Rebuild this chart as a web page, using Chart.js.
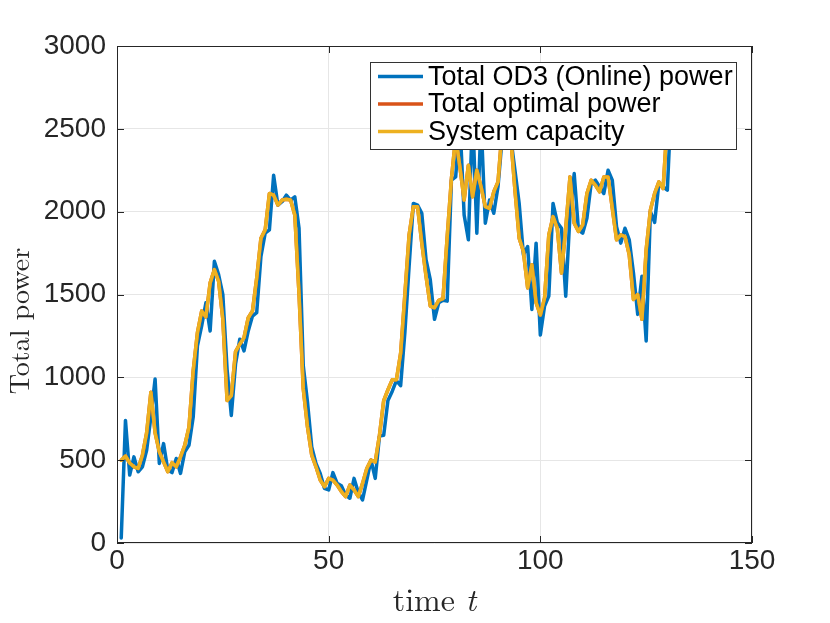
<!DOCTYPE html>
<html><head><meta charset="utf-8">
<script src="https://cdn.jsdelivr.net/npm/chart.js@4.4.1/dist/chart.umd.min.js"></script>
<style>html,body{margin:0;padding:0;background:#fff;}#wrap{width:830px;height:623px;position:relative;}</style>
</head><body><div id="wrap"><canvas id="c" width="830" height="623"></canvas></div>
<script>
const timeSteps = [1,2,3,4,5,6,7,8,9,10,11,12,13,14,15,16,17,18,19,20,21,22,23,24,25,26,27,28,29,30,
31,32,33,34,35,36,37,38,39,40,41,42,43,44,45,46,47,48,49,50,51,52,53,54,55,56,57,58,59,60,
61,62,63,64,65,66,67,68,69,70,71,72,73,74,75,76,77,78,79,80,81,82,83,84,85,86,87,88,89,90,
91,92,93,94,95,96,97,98,99,100,101,102,103,104,105,106,107,108,109,110,111,112,113,114,115,116,117,118,119,120,
121,122,123,124,125,126,127,128,129,130,131];

const onlinePower = [30,740,410,520,430,460,560,760,990,480,
600,440,425,510,420,550,590,760,1190,1310,
1450,1280,1700,1620,1500,1050,770,1080,1230,1160,
1280,1370,1390,1730,1870,1890,2220,2040,2060,2100,
2070,2090,1900,1070,850,580,480,420,330,320,
425,360,345,290,270,390,305,260,380,500,
390,645,650,860,915,980,950,1270,1670,2050,
2040,1990,1710,1590,1350,1450,1465,1460,2190,2210,
2550,1980,1830,2600,1870,2550,1930,2070,1990,2150,
2450,2600,2450,2250,2050,1740,1790,1410,1810,1255,
1430,1490,2050,1935,1900,1490,1980,2230,1890,1870,
1960,2170,2190,2150,2110,2250,2190,1910,1810,1900,
1830,1630,1380,1610,1220,2000,1935,2170,2150,2130,
2700];

const optimalPower = [500,525,483,460,450,530,665,910,665,550,
490,430,485,460,520,590,700,1040,1270,1400,
1365,1570,1650,1580,1350,860,890,1155,1200,1240,
1360,1400,1600,1840,1890,2110,2100,2040,2070,2075,
2070,1980,1500,930,700,530,460,380,340,390,
380,350,310,280,350,320,280,360,450,500,
490,650,860,925,985,985,1145,1500,1860,2030,
2030,1810,1610,1430,1420,1465,1475,1850,2200,2450,
2270,2070,2280,2090,2250,2150,2030,2020,2120,2180,
2500,2600,2450,2130,1840,1760,1540,1680,1450,1376,
1480,1860,1970,1900,1630,1900,2210,1930,1880,1920,
2110,2190,2160,2120,2210,2210,2020,1830,1860,1850,
1740,1470,1500,1350,1770,2010,2110,2180,2140,2550,
2750];

const systemCapacity = [500,525,483,460,450,530,665,910,665,550,
490,430,485,460,520,590,700,1040,1270,1400,
1365,1570,1650,1580,1350,860,890,1155,1200,1240,
1360,1400,1600,1840,1890,2110,2100,2040,2070,2075,
2070,1980,1500,930,700,530,460,380,340,390,
380,350,310,280,350,320,280,360,450,500,
490,650,860,925,985,985,1145,1500,1860,2030,
2030,1810,1610,1430,1420,1465,1475,1850,2200,2450,
2270,2070,2280,2090,2250,2150,2030,2020,2120,2180,
2500,2600,2450,2130,1840,1760,1540,1680,1450,1376,
1480,1860,1970,1900,1630,1900,2210,1930,1880,1920,
2110,2190,2160,2120,2210,2210,2020,1830,1860,1850,
1740,1470,1500,1350,1770,2010,2110,2180,2140,2550,
2750];

const seriesLabels = ['Total OD3 (Online) power', 'Total optimal power', 'System capacity'];
const seriesColors = ['#0072BD', '#D95319', '#EDB120'];
const xTickValues = [0, 50, 100, 150];
const yTickValues = [0, 500, 1000, 1500, 2000, 2500, 3000];
const xTitle = 'time ';
const xTitleVar = 't';
const yTitle = 'Total power';

const seriesValues = [onlinePower, optimalPower, systemCapacity];
const datasets = seriesValues.map((vals, i) => ({
  label: seriesLabels[i],
  data: timeSteps.map((t, k) => ({x: t, y: vals[k]})),
  borderColor: seriesColors[i],
  backgroundColor: seriesColors[i],
  borderWidth: 3.5,
  borderJoinStyle: 'round',
  borderCapStyle: 'round',
  pointRadius: 0,
  tension: 0,
  fill: false,
  order: 3 - i
}));

const AXC = '#262626';

const decor = {
  id: 'decor',
  afterDraw(chart) {
    const ctx = chart.ctx;
    const a = chart.chartArea;
    const xs = chart.scales.x, ys = chart.scales.y;
    ctx.save();
    ctx.strokeStyle = AXC;
    ctx.lineWidth = 1;
    ctx.strokeRect(Math.round(a.left) + 0.5, Math.round(a.top) + 0.5,
      Math.round(a.right - a.left) - 1, Math.round(a.bottom - a.top) - 1);
    const TL = 7;
    ctx.beginPath();
    xTickValues.forEach(v => {
      const px = Math.round(xs.getPixelForValue(v)) + 0.5;
      ctx.moveTo(px, a.bottom); ctx.lineTo(px, a.bottom - TL);
      ctx.moveTo(px, a.top); ctx.lineTo(px, a.top + TL);
    });
    yTickValues.forEach(v => {
      const py = Math.round(ys.getPixelForValue(v)) + 0.5;
      ctx.moveTo(a.left, py); ctx.lineTo(a.left + TL, py);
      ctx.moveTo(a.right, py); ctx.lineTo(a.right - TL, py);
    });
    ctx.stroke();

    // legend
    const lx0 = 370, ly0 = 62, lx1 = 737, ly1 = 150;
    ctx.fillStyle = '#fff';
    ctx.fillRect(lx0, ly0, lx1 - lx0, ly1 - ly0);
    ctx.strokeStyle = '#333';
    ctx.lineWidth = 1;
    ctx.strokeRect(lx0 + 0.5, ly0 + 0.5, lx1 - lx0 - 1, ly1 - ly0 - 1);
    const rowY = [76.5, 104, 131.5];
    ctx.font = '27px "Liberation Sans", Arial, sans-serif';
    ctx.textBaseline = 'middle';
    ctx.textAlign = 'left';
    chart.data.datasets.forEach((ds, i) => {
      ctx.strokeStyle = ds.borderColor;
      ctx.lineWidth = 3.5;
      ctx.beginPath();
      ctx.moveTo(378, rowY[i]); ctx.lineTo(423, rowY[i]);
      ctx.stroke();
      ctx.fillStyle = '#000';
      ctx.fillText(ds.label, 428, rowY[i] + 1);
    });

    // axis titles
    ctx.fillStyle = AXC;
    ctx.textBaseline = 'alphabetic';
    const serif = '"Latin Modern Roman", "CMU Serif", "Liberation Serif", "DejaVu Serif", serif';
    const f1 = '32px ' + serif, f2 = 'italic 32px ' + serif;
    ctx.font = f1; const w1 = ctx.measureText(xTitle).width;
    ctx.font = f2; const w2 = ctx.measureText(xTitleVar).width;
    const cx = (a.left + a.right) / 2;
    const sx = cx - (w1 + w2) / 2;
    ctx.font = f1; ctx.fillText(xTitle, sx, 611);
    ctx.font = f2; ctx.fillText(xTitleVar, sx + w1, 611);

    ctx.save();
    ctx.translate(29, 321);
    ctx.rotate(-Math.PI / 2);
    ctx.font = '28px ' + serif;
    ctx.textAlign = 'center';
    ctx.fillText(yTitle, 0, 0);
    ctx.restore();
    ctx.restore();
  }
};

new Chart(document.getElementById('c'), {
  type: 'line',
  data: { datasets },
  options: {
    responsive: false,
    animation: false,
    devicePixelRatio: 1,
    layout: { padding: { top: 46, right: 78, left: 0, bottom: 0 } },
    plugins: { legend: { display: false }, tooltip: { enabled: false } },
    scales: {
      x: {
        type: 'linear', min: 0, max: 150,
        afterFit(s) { s.height = 80; },
        afterBuildTicks(s) { s.ticks = xTickValues.map(v => ({value: v})); },
        ticks: { font: { family: '"Liberation Sans", Arial, sans-serif', size: 28 }, color: AXC, padding: 1, maxRotation: 0,
          callback: v => String(v) },
        grid: { color: '#e6e6e6', lineWidth: 1, drawTicks: false },
        border: { display: false }
      },
      y: {
        type: 'linear', min: 0, max: 3000,
        afterFit(s) { s.width = 117; },
        afterBuildTicks(s) { s.ticks = yTickValues.map(v => ({value: v})); },
        ticks: { font: { family: '"Liberation Sans", Arial, sans-serif', size: 28 }, color: AXC, padding: 11,
          callback: v => String(v) },
        grid: { color: '#e6e6e6', lineWidth: 1, drawTicks: false },
        border: { display: false }
      }
    }
  },
  plugins: [decor]
});
</script></body></html>
